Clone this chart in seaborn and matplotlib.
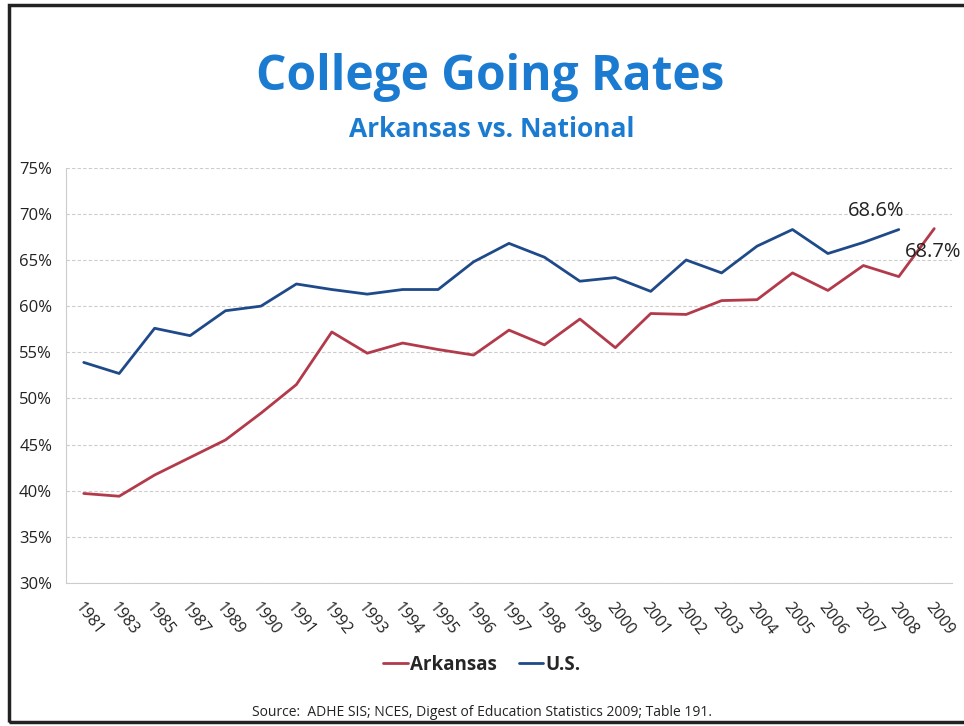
import pandas as pd
import numpy as np
import matplotlib.pyplot as plt
import seaborn as sns
from matplotlib.patches import Rectangle
from matplotlib.lines import Line2D

years = ["1981", "1983", "1985", "1987", "1989", "1990", "1991", "1992", "1993",
         "1994", "1995", "1996", "1997", "1998", "1999", "2000", "2001", "2002",
         "2003", "2004", "2005", "2006", "2007", "2008", "2009"]
arkansas = [39.7, 39.4, 41.7, 43.6, 45.5, 48.4, 51.5, 57.2, 54.9, 56.0, 55.3, 54.7,
            57.4, 55.8, 58.6, 55.5, 59.2, 59.1, 60.6, 60.7, 63.6, 61.7, 64.4, 63.2, 68.4]
us = [53.9, 52.7, 57.6, 56.8, 59.5, 60.0, 62.4, 61.8, 61.3, 61.8, 61.8, 64.8,
      66.8, 65.3, 62.7, 63.1, 61.6, 65.0, 63.6, 66.5, 68.3, 65.7, 66.9, 68.3, np.nan]
series_names = ["Arkansas", "U.S."]
series_colors = ["#b23a4a", "#1f4a8a"]
yticks = [30, 35, 40, 45, 50, 55, 60, 65, 70, 75]

df = pd.DataFrame({"year": years * 2,
                   "rate": arkansas + us,
                   "series": [series_names[0]] * len(years) + [series_names[1]] * len(years)})

sns.set_style("white")
plt.rcParams['font.family'] = ['Open Sans', 'DejaVu Sans']

fig = plt.figure(figsize=(9.64, 7.26), dpi=100)
ax = fig.add_axes([0.0685, 0.197, 0.919, 0.572])

sns.lineplot(data=df, x="year", y="rate", hue="series", palette=series_colors,
             linewidth=2, ax=ax, legend=False, sort=False)

ax.set_xlim(-0.5, len(years) - 0.5)
ax.set_ylim(30, 75)
ax.set_yticks(yticks)
ax.set_yticklabels([f"{v}%" for v in yticks], fontsize=12, color="#222222")
ax.set_xticks(range(len(years)))
ax.set_xticklabels(years, rotation=-52, ha="left", rotation_mode="anchor",
                   fontsize=11.5, color="#222222")
ax.tick_params(axis="x", length=4, color="#bbbbbb", pad=8)
ax.tick_params(axis="y", length=0, pad=10)
ax.set_xlabel("")
ax.set_ylabel("")
ax.grid(axis="y", color="#cccccc", linestyle=(0, (3, 2)), linewidth=0.8)
for side in ["top", "right"]:
    ax.spines[side].set_visible(False)
ax.spines["left"].set_color("#cccccc")
ax.spines["bottom"].set_color("#cccccc")

# data labels
ax.annotate("68.6%", xy=(years.index("2008"), us[-2]), xytext=(-16, 6),
            textcoords="offset points", ha="center", va="bottom", fontsize=14.5,
            color="#222222", annotation_clip=False)
ax.annotate("68.7%", xy=(len(years) - 1, arkansas[-1]), xytext=(-21, -17),
            textcoords="offset points", ha="left", va="center", fontsize=14.5,
            color="#222222", annotation_clip=False)

# titles
fig.text(0.508, 0.893, "College Going Rates", ha="center", va="center",
         fontsize=34.5, fontweight="bold", color="#1b7bd1")
fig.text(0.51, 0.822, "Arkansas vs. National", ha="center", va="center",
         fontsize=19, fontweight="bold", color="#1b7bd1")

# legend
handles = [Line2D([], [], color=c, linewidth=2) for c in series_colors]
fig.legend(handles, series_names, loc="center", bbox_to_anchor=(0.5, 0.084),
           ncol=2, frameon=False, handlelength=1.3, handletextpad=0.1,
           columnspacing=1.2, prop={"size": 13.5, "weight": "bold"})

fig.text(0.5, 0.019, "Source:  ADHE SIS; NCES, Digest of Education Statistics 2009; Table 191.",
         ha="center", va="center", fontsize=10, color="#222222")

# page frame
fig.patches.append(Rectangle((0.009, 0.006), 1.2, 0.987, transform=fig.transFigure,
                             fill=False, edgecolor="#222222", linewidth=2.5))

fig.savefig("out.png", dpi=100)
